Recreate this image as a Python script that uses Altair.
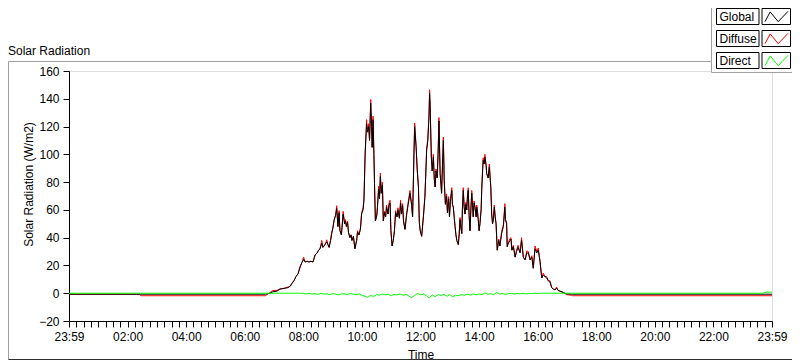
import altair as alt
import pandas as pd

FONT = "Liberation Sans"

# ---- data (hours since 23:59, W/m2) ----
time_h = [
    0.0, 2.4, 2.45, 6.7, 6.86, 6.96, 7.10, 7.20, 7.34, 7.48,
    7.55, 7.61, 7.68, 7.75, 7.82, 7.89, 7.95, 8.01, 8.06, 8.13,
    8.19, 8.26, 8.33, 8.40, 8.47, 8.52, 8.57, 8.63, 8.67, 8.74,
    8.80, 8.84, 8.88, 8.93, 8.97, 9.01, 9.05, 9.10, 9.14, 9.18,
    9.22, 9.25, 9.30, 9.36, 9.41, 9.44, 9.47, 9.51, 9.54, 9.59,
    9.63, 9.66, 9.71, 9.76, 9.82, 9.85, 9.90, 9.95, 9.99, 10.04,
    10.07, 10.11, 10.16, 10.19, 10.23, 10.26, 10.30, 10.33, 10.35, 10.38,
    10.41, 10.43, 10.46, 10.51, 10.53, 10.57, 10.60, 10.63, 10.66, 10.70,
    10.73, 10.77, 10.81, 10.84, 10.89, 10.92, 10.96, 10.99, 11.03, 11.07,
    11.11, 11.15, 11.20, 11.23, 11.28, 11.32, 11.35, 11.39, 11.42, 11.47,
    11.53, 11.58, 11.64, 11.70, 11.73, 11.78, 11.80, 11.85, 11.89, 11.93,
    11.96, 11.99, 12.04, 12.10, 12.15, 12.19, 12.21, 12.25, 12.29, 12.31,
    12.33, 12.37, 12.40, 12.44, 12.47, 12.50, 12.53, 12.57, 12.60, 12.63,
    12.67, 12.70, 12.72, 12.78, 12.81, 12.85, 12.89, 12.92, 12.96, 12.99,
    13.02, 13.07, 13.09, 13.12, 13.15, 13.18, 13.21, 13.24, 13.29, 13.32,
    13.35, 13.38, 13.41, 13.43, 13.46, 13.49, 13.52, 13.55, 13.58, 13.60,
    13.63, 13.66, 13.69, 13.72, 13.75, 13.78, 13.80, 13.83, 13.86, 13.90,
    13.92, 13.95, 13.97, 14.00, 14.03, 14.07, 14.09, 14.12, 14.14, 14.17,
    14.20, 14.24, 14.26, 14.29, 14.31, 14.35, 14.40, 14.43, 14.46, 14.49,
    14.52, 14.55, 14.58, 14.62, 14.67, 14.71, 14.77, 14.83, 14.88, 14.90,
    14.94, 14.96, 15.00, 15.06, 15.09, 15.12, 15.17, 15.23, 15.28, 15.33,
    15.40, 15.45, 15.51, 15.57, 15.63, 15.68, 15.74, 15.80, 15.85, 15.91,
    15.97, 16.02, 16.08, 16.14, 16.19, 16.25, 16.31, 16.36, 16.42, 16.48,
    16.53, 16.59, 16.65, 16.70, 16.76, 16.88, 16.99, 17.15, 17.2, 24.0,
]

global_wm2 = [
    -0.7, -0.7, -0.7, -0.7, 0, 1, 1.5, 3, 3.5, 4,
    5, 7, 9, 12, 14, 19, 22, 24.5, 22.5, 23,
    22.5, 23, 22.5, 27.5, 29, 31, 32, 36, 33, 35,
    37, 35, 33, 38, 43, 47, 52.6, 56, 61, 48,
    58, 45, 42, 57, 50, 52, 48, 51, 44, 40,
    42, 38, 41, 32, 38, 44, 42, 46, 57, 60,
    67, 100, 122, 116, 120, 110, 137, 120, 105, 125,
    100, 79, 52, 56, 62, 75, 68, 84, 72, 78,
    52, 58, 55, 62, 57, 63, 65, 45, 34, 38,
    45, 58, 55, 60, 54, 65, 57, 63, 52, 46,
    57, 64, 72, 63, 55, 103, 120, 105, 88, 76,
    51, 45, 41, 55, 69, 91, 103, 110, 127, 144,
    134, 98, 88, 98, 82, 76.5, 88, 83, 100, 124,
    86, 78, 72, 110, 81, 64, 70, 58, 68, 55,
    66, 74, 64, 62, 55, 48, 42, 38, 35, 42,
    53, 47, 43, 60, 74, 62, 57, 64, 60, 68,
    74, 56, 45, 60, 72, 62, 55, 65, 62, 55,
    62, 58, 53, 45, 50, 60, 74, 88, 95.7, 93,
    98, 92, 86, 84, 83, 91, 76, 57, 50, 53,
    62, 55, 50, 31, 38, 34, 43, 48, 62, 53,
    50, 33.5, 36, 38, 39, 31, 33.5, 26, 30, 33,
    29, 38, 26, 24, 29, 29, 24, 26, 18, 32,
    29, 31, 23, 11, 13, 12, 11, 9, 8, 4,
    3, 2.5, 3.5, 2, 1.5, 0.5, -0.5, -0.7, -0.7, -0.7,
]

diffuse_wm2 = [
    -0.7, -0.7, -1.8, -1.8, 0.5, 2, 2, 3, 3.5, 4.5,
    5, 7, 9, 12, 14, 19, 22, 26, 22.5, 23,
    22.5, 23, 22.5, 27.5, 29, 31, 32, 38, 33, 35,
    38.5, 35, 33, 38, 44, 47, 52.6, 56, 63, 48,
    59.5, 45, 42, 59, 50, 53, 48, 52, 44, 40,
    42, 38, 41, 32, 38, 45, 42, 47, 58, 61.5,
    68, 101, 125, 116, 122, 110, 139.5, 120, 105, 127.5,
    100, 79, 52, 57, 62, 77, 68, 86.5, 72, 80,
    52, 59, 55, 63.5, 57, 64.5, 67, 45, 34, 38,
    45, 59.5, 55, 61.5, 54, 67, 57, 64.5, 52, 46,
    58, 65.5, 74, 63, 55, 104, 122.5, 106.5, 89, 77,
    51, 45, 41, 56, 70, 92, 104, 111, 129, 146.5,
    135, 98, 88, 100, 82, 76.5, 89.5, 83, 101, 126.5,
    86, 78, 72, 112.5, 81, 64, 71.5, 58, 69.5, 55,
    67.5, 76, 64, 62, 55, 48, 42, 38, 35, 43,
    54.5, 47, 43, 61, 76, 62, 57, 65.5, 60, 69.5,
    76, 56, 45, 61, 74, 62, 55, 66.5, 62, 55,
    63.5, 58, 53, 45, 50, 61, 75.5, 89, 97.5, 93,
    100, 92, 86, 85, 83, 93, 77, 57, 50, 54,
    63.5, 55, 50, 31, 39, 34, 44.5, 49.5, 64.5, 53,
    51, 33.5, 37, 39.5, 40, 31, 34.5, 26, 31, 34.5,
    29.5, 40, 26, 24, 30.5, 30, 24, 27, 18, 34,
    30, 32.5, 23, 11, 14.5, 12, 12, 9, 9, 4,
    3, 2.5, 4.5, 2, 1.5, 0.5, -1, -1.5, -1.8, -1.8,
]

direct_time_h = [
    0.0, 7.5,
    7.9, 8.0, 8.1, 8.2, 8.3, 8.4, 8.5, 8.6, 8.7, 8.8,
    8.9, 9.0, 9.1, 9.2, 9.3, 9.4, 9.5, 9.6, 9.7, 9.8,
    9.9, 10.0, 10.1, 10.2, 10.3, 10.4, 10.5, 10.6, 10.7, 10.8,
    10.9, 11.0, 11.1, 11.2, 11.3, 11.4, 11.5, 11.6, 11.7, 11.8,
    11.9, 12.0, 12.1, 12.2, 12.3, 12.4, 12.5, 12.6, 12.7, 12.8,
    12.9, 13.0, 13.1, 13.2, 13.3, 13.4, 13.5, 13.6, 13.7, 13.8,
    13.9, 14.0, 14.1, 14.2, 14.3, 14.4, 14.5, 14.6, 14.7, 14.8,
    14.9, 15.0, 15.1, 15.2, 15.3, 15.4, 15.5, 15.6, 15.7, 15.8,
    15.9, 16.0, 16.1, 16.2,
    23.7, 23.8, 24.0,
]

direct_wm2 = [
    0, 0,
    0, -0.3, -0.5, 0, -0.6, -0.3, -0.8, -0.2, -0.6, -0.4,
    -1.0, -0.3, -0.7, -1.2, -0.5, -0.4, -0.9, -0.3, -0.6, -1.0,
    -0.5, -1.5, -2.2, -3.0, -1.5, -2.5, -1.0, -1.4, -0.6, -1.2,
    -0.7, -1.8, -0.8, -1.3, -0.5, -1.5, -0.8, -2.0, -3.2, -1.5,
    -0.2, -1.2, -0.6, -1.8, -3.5, -1.2, -2.5, -1.0, -1.6, -0.8,
    -2.2, -1.0, -2.6, -1.4, -1.8, -0.9, -1.6, -0.7, -1.3, -0.5,
    -1.2, -0.6, -1.0, 0.3, -0.8, -0.3, -1.1, 0.5, -0.6, -0.2,
    -0.9, -0.3, -0.1, -0.6, -0.2, -0.4, 0, -0.5, -0.2, -0.3,
    0, -0.2, 0, 0,
    0, 0.8, 0.8,
]

series_names = ["Global", "Diffuse", "Direct"]
series_colors = ["#000000", "#ff0000", "#00ff00"]
y_tick_values = [-20, 0, 20, 40, 60, 80, 100, 120, 140, 160]
x_tick_values = [i * 0.25 for i in range(97)]

df = pd.concat([
    pd.DataFrame({"t": time_h, "v": global_wm2, "series": "Global"}),
    pd.DataFrame({"t": time_h, "v": diffuse_wm2, "series": "Diffuse"}),
    pd.DataFrame({"t": direct_time_h, "v": direct_wm2, "series": "Direct"}),
], ignore_index=True)

ZIGZAG = "M-1,0.45L-0.55,-0.4L0.15,0.45L1,-0.45"

x_axis = alt.Axis(
    values=x_tick_values,
    labelExpr=("datum.value % 2 === 0 ? ((datum.value === 0 || datum.value === 24) ? '23:59' : "
               "((datum.value < 10 ? '0' : '') + datum.value + ':00')) : ''"),
    labelOverlap=False, labelFlush=False, grid=False,
    tickSize=6, tickColor="black", domainColor="black",
    labelFont=FONT, labelFontSize=12, labelColor="black", labelPadding=4,
    titleFont=FONT, titleFontSize=12, titleFontWeight="normal", titleColor="black",
    titleY=37, titleBaseline="alphabetic",
)
y_axis = alt.Axis(
    values=y_tick_values, grid=False,
    tickSize=6, tickColor="black", domainColor="black",
    labelFont=FONT, labelFontSize=12, labelColor="black", labelPadding=4,
    titleFont=FONT, titleFontSize=12, titleFontWeight="normal", titleColor="black",
    titleX=-34, titleY=113,
)

base = alt.Chart(df).encode(
    x=alt.X("t:Q", title="Time", scale=alt.Scale(domain=[0, 24], nice=False, zero=False), axis=x_axis),
    y=alt.Y("v:Q", title="Solar Radiation (W/m2)", scale=alt.Scale(domain=[-20, 160], nice=False, zero=False), axis=y_axis),
    color=alt.Color("series:N", scale=alt.Scale(domain=series_names, range=series_colors), legend=None),
)

diffuse_line = base.transform_filter(alt.datum.series == "Diffuse").mark_line(strokeWidth=1)
global_line = base.transform_filter(alt.datum.series == "Global").mark_line(strokeWidth=1)
direct_line = base.transform_filter(alt.datum.series == "Direct").mark_line(strokeWidth=1)

one = pd.DataFrame({"k": [0]})

# outer panel frame (LabVIEW style)
outer_frame = alt.Chart(one).mark_rect(fillOpacity=0, stroke="#a0a0a0", strokeWidth=1).encode(
    x=alt.value(-60.5), x2=alt.value(740), y=alt.value(-9.5), y2=alt.value(288.5)
)
outer_bottom = alt.Chart(one).mark_rule(color="#303030", strokeWidth=1).encode(
    x=alt.value(-60.5), x2=alt.value(740), y=alt.value(288.5)
)
title_text = alt.Chart(one).mark_text(align="left", baseline="alphabetic", font=FONT, fontSize=12,
                                       color="black").encode(
    x=alt.value(-61), y=alt.value(-16), text=alt.value("Solar Radiation")
)

# legend panel drawn with marks: label box + swatch box with zigzag per series
legend_layers = [
    alt.Chart(one).mark_rect(fill="white", stroke="#a0a0a0", strokeWidth=1).encode(
        x=alt.value(642.5), x2=alt.value(745), y=alt.value(-75), y2=alt.value(1.5)
    )
]
row_centers = [-54.5, -32.5, -10.5]
for name, col, cy in zip(series_names, series_colors, row_centers):
    legend_layers.append(
        alt.Chart(one).mark_rect(fill="white", stroke="black", strokeWidth=1).encode(
            x=alt.value(647.5), x2=alt.value(690), y=alt.value(cy - 8), y2=alt.value(cy + 8)
        )
    )
    legend_layers.append(
        alt.Chart(one).mark_rect(fill="white", stroke="black", strokeWidth=1).encode(
            x=alt.value(693), x2=alt.value(721.5), y=alt.value(cy - 8), y2=alt.value(cy + 8)
        )
    )
    legend_layers.append(
        alt.Chart(one).mark_text(align="left", baseline="middle", font=FONT, fontSize=12,
                                 color="black").encode(
            x=alt.value(650.5), y=alt.value(cy + 0.5), text=alt.value(name)
        )
    )
    legend_layers.append(
        alt.Chart(one).mark_point(shape=ZIGZAG, size=529, filled=False, strokeWidth=1,
                                  color=col, opacity=1).encode(
            x=alt.value(707.5), y=alt.value(cy)
        )
    )

chart = alt.layer(
    outer_frame, outer_bottom, title_text, diffuse_line, global_line, direct_line, *legend_layers
).properties(
    width=703, height=250,
    padding={"left": 61, "top": 63, "right": 20, "bottom": 40},
    autosize=alt.AutoSizeParams(type="none"),
).configure_view(stroke="black", strokeWidth=1).configure(background="white")

chart.save("out.html", embed_options={"renderer": "svg", "actions": False})
